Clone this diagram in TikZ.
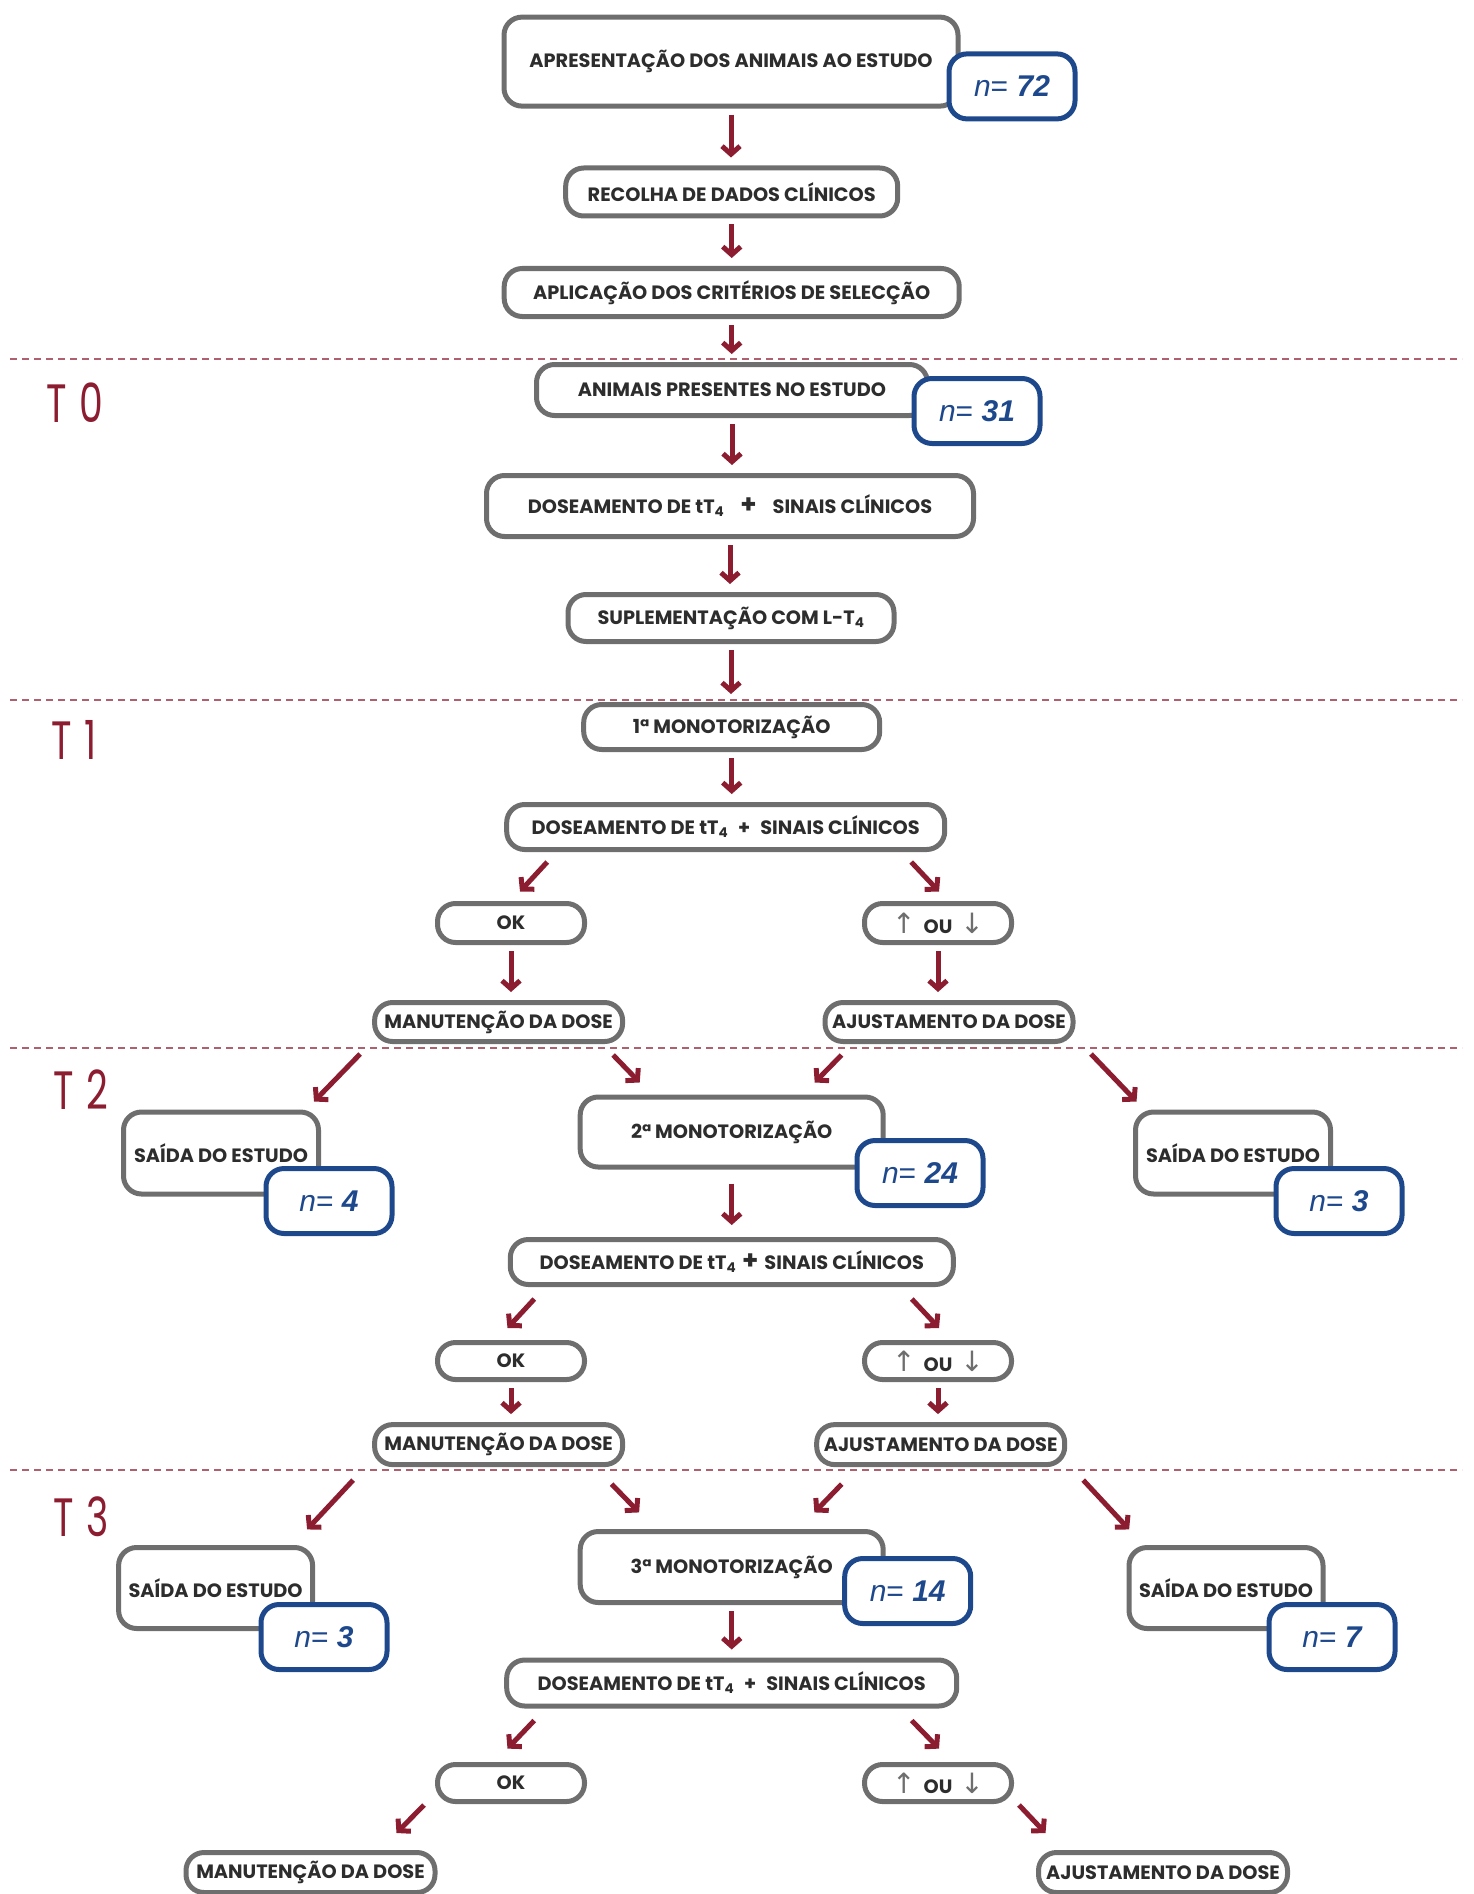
\documentclass[tikz,border=0pt]{standalone}
\usepackage{fontspec}
\setmainfont{Poppins}
\newfontfamily\nfont{Liberation Sans}
\newfontfamily\symbfont{DejaVu Sans}
\usetikzlibrary{arrows.meta}
\definecolor{boxgray}{RGB}{110,110,110}
\definecolor{textgray}{RGB}{45,45,45}
\definecolor{nblue}{RGB}{30,72,140}
\definecolor{setared}{RGB}{140,28,48}
\definecolor{linhared}{RGB}{175,95,110}
\definecolor{symgray}{RGB}{110,110,110}

\newcommand{\tq}{T\textsubscript{4}}
\newcommand{\nval}[1]{{\itshape n}= {\bfseries\itshape #1}}
\newcommand{\sobedesce}{{\symbfont\mdseries\color{symgray}\fontsize{28}{28}\selectfont ↑}\hspace{8pt}OU\hspace{8pt}{\symbfont\mdseries\color{symgray}\fontsize{28}{28}\selectfont ↓}}
\newcommand{\mais}{{\fontsize{26}{26}\selectfont +}}

\begin{document}
\begin{tikzpicture}[
    x=1pt, y=-1pt,
    caixa/.style={draw=boxgray, line width=5pt, rounded corners=18pt, fill=white, text=textgray, font=\bfseries\fontsize{19.3}{21}\selectfont, inner sep=0pt, align=center},
    numero/.style={draw=nblue, line width=5pt, rounded corners=18pt, fill=white, text=nblue, font=\nfont\fontsize{30}{32}\selectfont, inner sep=0pt, minimum width=126pt, minimum height=65pt},
    seta/.style={draw=setared, line width=5pt, -{Straight Barb[length=8pt,width=18pt]}},
    setav/.style={seta, shorten <=6pt, shorten >=8pt},
    divisao/.style={draw=linhared, line width=1.5pt, dash pattern=on 7pt off 5pt},
    tempo/.style={text=setared, font=\fontsize{54}{60}\selectfont, inner sep=0pt}
]
\useasboundingbox (0,0) rectangle (1473,1894);

% linhas de separacao dos tempos
\draw[divisao] (10,359) -- (1462,359);
\draw[divisao] (10,700) -- (1462,700);
\draw[divisao] (10,1048) -- (1462,1048);
\draw[divisao] (10,1470) -- (1462,1470);
\node[tempo] (t0) at (75,403) {\scalebox{0.7}[1]{T\hspace{18pt}0}};
\node[tempo] (t1) at (74,740) {\scalebox{0.7}[1]{T\hspace{18pt}1}};
\node[tempo] (t2) at (81,1090) {\scalebox{0.7}[1]{T\hspace{18pt}2}};
\node[tempo] (t3) at (81,1517) {\scalebox{0.7}[1]{T\hspace{18pt}3}};

% inicio
\node[caixa, minimum width=454pt, minimum height=89pt] (apresent) at (731,61.6) {APRESENTAÇÃO DOS ANIMAIS AO ESTUDO};
\node[numero] (n72) at (1012,86.4) {\nval{72}};
\node[caixa, minimum width=332pt, minimum height=48pt] (recolha) at (731.7,192) {RECOLHA DE DADOS CLÍNICOS};
\node[caixa, minimum width=455pt, minimum height=48pt] (aplic) at (731.7,292.5) {APLICAÇÃO DOS CRITÉRIOS DE SELECÇÃO};

% T0
\node[caixa, minimum width=391pt, minimum height=51pt] (presentes) at (732,390) {ANIMAIS PRESENTES NO ESTUDO};
\node[numero] (n31) at (977,411) {\nval{31}};
\node[caixa, minimum width=487pt, minimum height=61pt] (dose0) at (730,506) {DOSEAMENTO DE t\tq\hspace{16pt}\mais\hspace{16pt}SINAIS CLÍNICOS};
\node[caixa, minimum width=326pt, minimum height=47pt] (suplem) at (731,618) {SUPLEMENTAÇÃO COM L-\tq};

% T1
\node[caixa, minimum width=296pt, minimum height=45pt] (mon1) at (731.7,727) {1ª MONOTORIZAÇÃO};
\node[caixa, minimum width=438pt, minimum height=45pt] (dose1) at (725.7,827) {DOSEAMENTO DE t\tq\hspace{10pt}+\hspace{10pt}SINAIS CLÍNICOS};
\node[caixa, minimum width=147pt, minimum height=39pt] (ok1) at (511,923) {OK};
\node[caixa, minimum width=147pt, minimum height=39pt] (alt1) at (938,923) {\sobedesce};
\node[caixa, minimum width=248pt, minimum height=39pt] (man1) at (498.6,1022) {MANUTENÇÃO DA DOSE};
\node[caixa, minimum width=248pt, minimum height=39pt] (aju1) at (949,1022) {AJUSTAMENTO DA DOSE};

% T2
\node[caixa, minimum width=195pt, minimum height=82pt] (saida2l) at (221,1153) {SAÍDA DO ESTUDO};
\node[numero] (n4) at (329,1201) {\nval{4}};
\node[caixa, minimum width=303pt, minimum height=70pt] (mon2) at (731.7,1132) {2ª MONOTORIZAÇÃO};
\node[numero] (n24) at (920,1173) {\nval{24}};
\node[caixa, minimum width=195pt, minimum height=82pt] (saida2r) at (1233,1153) {SAÍDA DO ESTUDO};
\node[numero] (n3r) at (1339,1201) {\nval{3}};
\node[caixa, minimum width=443pt, minimum height=45pt] (dose2) at (731.8,1262) {DOSEAMENTO DE t\tq\hspace{6pt}\mais\hspace{6pt}SINAIS CLÍNICOS};
\node[caixa, minimum width=147pt, minimum height=37pt] (ok2) at (511,1361) {OK};
\node[caixa, minimum width=147pt, minimum height=37pt] (alt2) at (938,1361) {\sobedesce};
\node[caixa, minimum width=248pt, minimum height=40pt] (man2) at (498.6,1444.6) {MANUTENÇÃO DA DOSE};
\node[caixa, minimum width=248pt, minimum height=40pt] (aju2) at (940.7,1444.6) {AJUSTAMENTO DA DOSE};

% T3
\node[caixa, minimum width=194pt, minimum height=81pt] (saida3l) at (215.6,1588) {SAÍDA DO ESTUDO};
\node[numero] (n3l) at (324,1637) {\nval{3}};
\node[caixa, minimum width=303pt, minimum height=71pt] (mon3) at (731.7,1567) {3ª MONOTORIZAÇÃO};
\node[numero] (n14) at (907.7,1591) {\nval{14}};
\node[caixa, minimum width=194pt, minimum height=81pt] (saida3r) at (1226,1588) {SAÍDA DO ESTUDO};
\node[numero] (n7) at (1332,1637) {\nval{7}};
\node[caixa, minimum width=450pt, minimum height=46pt] (dose3) at (731.7,1683) {DOSEAMENTO DE t\tq\hspace{10pt}+\hspace{10pt}SINAIS CLÍNICOS};
\node[caixa, minimum width=147pt, minimum height=37pt] (ok3) at (511,1783) {OK};
\node[caixa, minimum width=147pt, minimum height=37pt] (alt3) at (938,1783) {\sobedesce};
\node[caixa, minimum width=249pt, minimum height=40pt] (man3) at (310.5,1872.5) {MANUTENÇÃO DA DOSE};
\node[caixa, minimum width=249pt, minimum height=40pt] (aju3) at (1163,1872.5) {AJUSTAMENTO DA DOSE};

% setas verticais
\draw[setav] (apresent.south) -- (apresent.south |- recolha.north);
\draw[setav] (recolha.south) -- (recolha.south |- aplic.north);
\draw[setav] (aplic.south) -- (aplic.south |- presentes.north);
\draw[setav] (presentes.south) -- (presentes.south |- dose0.north);
\draw[setav] (dose0.south) -- (dose0.south |- suplem.north);
\draw[setav] (suplem.south) -- (suplem.south |- mon1.north);
\draw[setav] (mon1.south) -- (mon1.south |- dose1.north);
\draw[setav] (ok1.south) -- (ok1.south |- man1.north);
\draw[setav] (alt1.south) -- (alt1.south |- aju1.north);
\draw[setav, shorten <=14pt, shorten >=12pt] (mon2.south) -- (mon2.south |- dose2.north);
\draw[setav] (ok2.south) -- (ok2.south |- man2.north);
\draw[setav] (alt2.south) -- (alt2.south |- aju2.north);
\draw[setav] (mon3.south) -- (mon3.south |- dose3.north);

% setas diagonais
\draw[seta] ([xshift=43pt,yshift=-10pt]dose1.south west) -- ([xshift=9pt,yshift=9.5pt]ok1.north);
\draw[seta] ([xshift=-36pt,yshift=-10pt]dose1.south east) -- ([xshift=1pt,yshift=9.5pt]alt1.north);
\draw[seta] ([xshift=-12pt,yshift=-10pt]man1.south west) -- ([xshift=-7pt,yshift=8pt]saida2l.north east);
\draw[seta] ([xshift=-12pt,yshift=-11pt]man1.south east) -- ([xshift=62pt,yshift=12pt]mon2.north west);
\draw[seta] ([xshift=19pt,yshift=-11pt]aju1.south west) -- ([xshift=-71pt,yshift=12pt]mon2.north east);
\draw[seta] ([xshift=15.5pt,yshift=-10pt]aju1.south east) -- ([xshift=3.5pt,yshift=8pt]saida2r.north west);
\draw[seta] ([xshift=26.5pt,yshift=-12pt]dose2.south west) -- ([xshift=-3.5pt,yshift=12pt]ok2.north);
\draw[seta] ([xshift=-44pt,yshift=-12pt]dose2.south east) -- ([xshift=1pt,yshift=12pt]alt2.north);
\draw[seta] ([xshift=-19pt,yshift=-13pt]man2.south west) -- ([xshift=-8pt,yshift=15.6pt]saida3l.north east);
\draw[seta] ([xshift=-13.5pt,yshift=-17pt]man2.south east) -- ([xshift=61.4pt,yshift=16.6pt]mon3.north west);
\draw[seta] ([xshift=27.5pt,yshift=-17pt]aju2.south west) -- ([xshift=-71.3pt,yshift=16.6pt]mon3.north east);
\draw[seta] ([xshift=16pt,yshift=-13pt]aju2.south east) -- ([xshift=2.6pt,yshift=15.6pt]saida3r.north west);
\draw[seta] ([xshift=30pt,yshift=-12pt]dose3.south west) -- ([xshift=-3.5pt,yshift=13.4pt]ok3.north);
\draw[seta] ([xshift=-47.5pt,yshift=-12pt]dose3.south east) -- ([xshift=1pt,yshift=13.4pt]alt3.north);
\draw[seta] ([xshift=-11pt,yshift=-1pt]ok3.south west) -- ([xshift=-41pt,yshift=17pt]man3.north east);
\draw[seta] ([xshift=5pt,yshift=-1pt]alt3.south east) -- ([xshift=9.5pt,yshift=17pt]aju3.north west);

\end{tikzpicture}
\end{document}
